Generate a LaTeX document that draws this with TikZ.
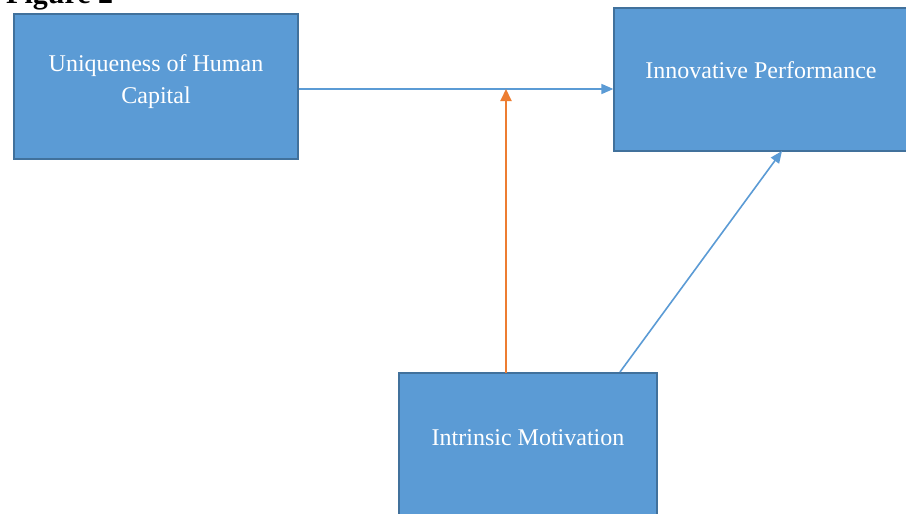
\documentclass[tikz,border=0pt]{standalone}
\usepackage{fontspec}
\setmainfont{Liberation Serif}
\usetikzlibrary{arrows.meta}
\definecolor{boxfill}{HTML}{5B9BD5}
\definecolor{boxline}{HTML}{41719C}
\definecolor{linkblue}{HTML}{5B9BD5}
\definecolor{linkorange}{HTML}{ED7D31}
\tikzset{
  x=1pt, y=-1pt,
  box/.style={draw=boxline, line width=1.2pt, fill=boxfill, inner sep=0pt},
  boxtext/.style={text=white, font=\fontsize{24}{32}\selectfont, align=center, inner sep=0pt},
  link/.style={draw=linkblue, line width=1.6pt, -{Triangle[length=12pt,width=10pt]}},
  modlink/.style={draw=linkorange, line width=2pt, -{Triangle[length=12pt,width=11pt]}},
}
\begin{document}
\begin{tikzpicture}
\useasboundingbox (0,0) rectangle (906,514);
\clip (0,0) rectangle (906,514);
\fill[white] (0,0) rectangle (906,514);
\node[anchor=base west, inner sep=0pt, font=\bfseries\fontsize{30}{36}\selectfont] (fig) at (6,3) {Figure 2};
% boxes
\node[box, minimum width=284pt, minimum height=145pt] (uhc) at (156,86.5) {};
\node[box, minimum width=300pt, minimum height=143pt] (ip) at (764,79.5) {};
\node[box, minimum width=258pt, minimum height=160pt] (im) at (528,453) {};
% texts
\node[boxtext] (uhct) at (156,82) {Uniqueness of Human\\Capital};
\node[boxtext] (ipt) at (761,70) {Innovative Performance};
\node[boxtext] (imt) at (528,438) {Intrinsic Motivation};
% connectors
\coordinate (junc) at (506,89);
\coordinate (imtop) at (506,373);
\coordinate (imtr) at (620,372);
\coordinate (ipbot) at (782,151);
\draw[link] (uhc.east |- junc) -- (ip.west |- junc);
\draw[modlink] (imtop) -- (junc);
\draw[link] (imtr) -- (ipbot);
\end{tikzpicture}
\end{document}
